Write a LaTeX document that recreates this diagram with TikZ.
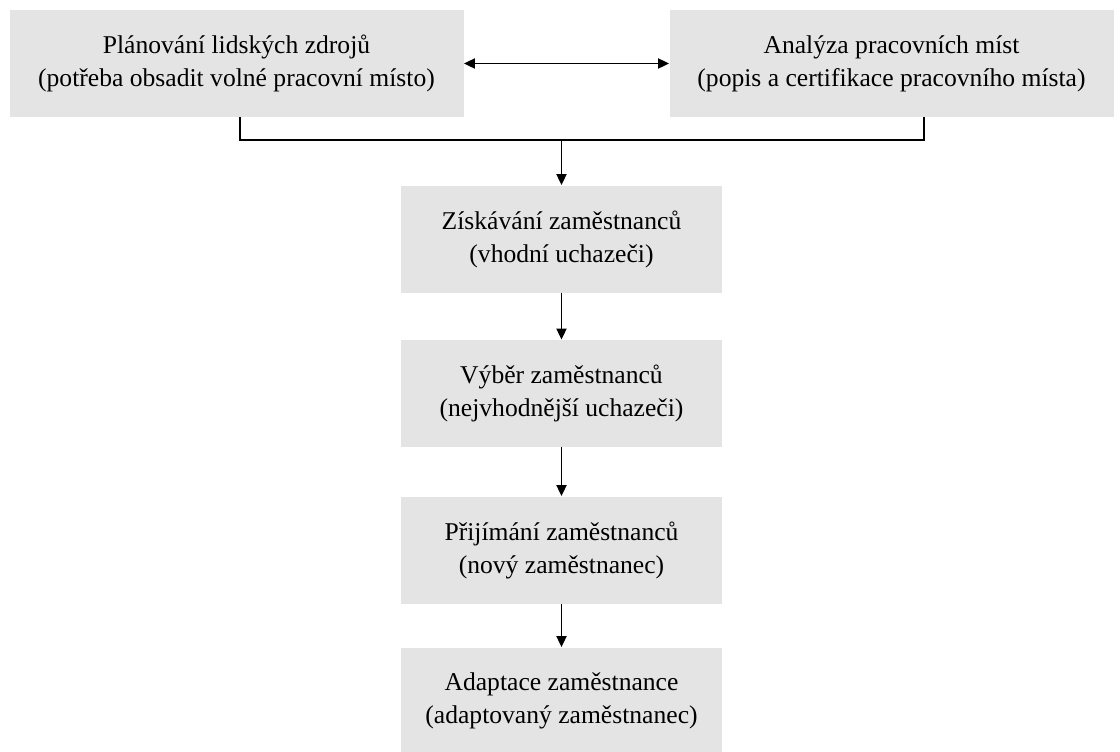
\documentclass[tikz,border=0pt]{standalone}
\usepackage{fontspec}
\setmainfont{Liberation Serif}
\usepackage{tikz}
\usetikzlibrary{arrows.meta,calc}
\definecolor{boxfill}{RGB}{228,228,228}
\definecolor{figline}{RGB}{0,0,0}
\tikzset{
  stage/.style ={fill=boxfill, draw=none, align=center, inner sep=0pt,
                 minimum height=53.5pt, font=\fontsize{12.8}{16.5}\selectfont},
  wide/.style  ={stage, minimum width=227pt},
  narrow/.style={stage, minimum width=160.5pt},
  conn/.style  ={draw=figline, line width=0.9pt},
  flow/.style  ={conn, -{Triangle[length=5.5pt,width=5pt]}},
  both/.style  ={conn, {Triangle[length=5.5pt,width=5pt]}-{Triangle[length=5.5pt,width=5pt]}},
}
\begin{document}
\begin{tikzpicture}[x=0.5pt,y=-0.5pt]
  \useasboundingbox (0,0) rectangle (1120,751);
  % top row
  \node[wide] (plan) at (236.5,63.5) {Plánování lidských zdrojů\\(potřeba obsadit volné pracovní místo)};
  \node[stage, minimum width=222pt] (anal) at (891.5,63.5) {Analýza pracovních míst\\(popis a certifikace pracovního místa)};
  \draw[both] (plan) -- (anal);
  % process chain
  \node[narrow] (zisk) at (561.5,239) {Získávání zaměstnanců\\(vhodní uchazeči)};
  \node[narrow] (vyber) at (561.5,393.5) {Výběr zaměstnanců\\(nejvhodnější uchazeči)};
  \node[narrow] (prij) at (561.5,550) {Přijímání zaměstnanců\\(nový zaměstnanec)};
  \node[narrow] (adapt) at (561.5,701) {Adaptace zaměstnance\\(adaptovaný zaměstnanec)};
  % joint of the two inputs
  \coordinate (jl) at (240,140);
  \coordinate (jr) at (924,140);
  \coordinate (jm) at (561.5,140);
  \draw[conn] (plan.south -| jl) -- (jl) -- (jr) -- (anal.south -| jr);
  \draw[flow] (jm) -- (zisk);
  \draw[flow] (zisk) -- (vyber);
  \draw[flow] (vyber) -- (prij);
  \draw[flow] (prij) -- (adapt);
\end{tikzpicture}
\end{document}
